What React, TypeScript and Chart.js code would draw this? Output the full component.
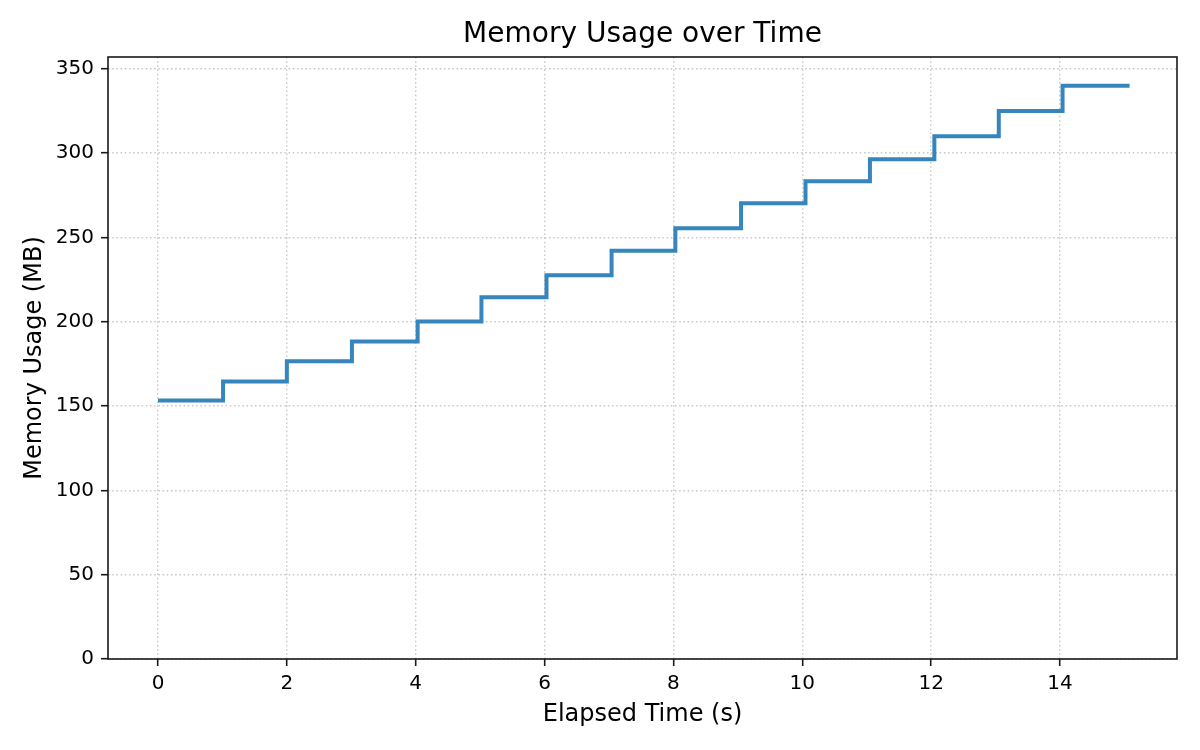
import React, { useEffect, useRef } from "react";
import { Chart, registerables } from "chart.js";

Chart.register(...registerables);

// Data
const elapsedSeconds: number[] = [0, 1.01, 2.0, 3.01, 4.03, 5.02, 6.03, 7.04, 8.03, 9.05, 10.05, 11.05, 12.05, 13.05, 14.04, 15.08];
const memoryMB: number[] = [153.3, 164.6, 176.5, 188.3, 200.2, 214.6, 227.5, 242.1, 255.4, 270.3, 283.3, 296.4, 310.0, 325.0, 340.0, 340.0];
const xTickValues: number[] = [0, 2, 4, 6, 8, 10, 12, 14];
const yTickValues: number[] = [0, 50, 100, 150, 200, 250, 300, 350];

const FONT = "'DejaVu Sans', 'Liberation Sans', sans-serif";

const framePlugin = {
  id: "frame",
  afterDraw(chart: any) {
    const { ctx, chartArea } = chart;
    ctx.save();
    ctx.strokeStyle = "#1a1a1a";
    ctx.lineWidth = 1.6;
    ctx.strokeRect(chartArea.left, chartArea.top, chartArea.right - chartArea.left, chartArea.bottom - chartArea.top);
    ctx.restore();
  },
};

export default function App() {
  const canvasRef = useRef<HTMLCanvasElement | null>(null);

  useEffect(() => {
    if (!canvasRef.current) return;
    const points = elapsedSeconds.map((t, i) => ({ x: t, y: memoryMB[i] }));
    const gridCommon = {
      color: "rgba(175,175,175,0.7)",
      lineWidth: 1.4,
      drawTicks: true,
      tickLength: 7,
      tickColor: "#1a1a1a",
      tickWidth: 1.6,
      tickBorderDash: [],
    };
    const chart = new Chart(canvasRef.current, {
      type: "line",
      data: {
        datasets: [
          {
            label: "Memory Usage",
            data: points,
            borderColor: "#3686bd",
            backgroundColor: "#3686bd",
            borderWidth: 4,
            pointRadius: 0,
            stepped: true,
            fill: false,
          },
        ],
      },
      plugins: [framePlugin],
      options: {
        animation: false,
        responsive: false,
        maintainAspectRatio: false,
        devicePixelRatio: 1,
        layout: { padding: { left: 0, right: 23, top: 0, bottom: 0 } },
        plugins: {
          legend: { display: false },
          tooltip: { enabled: false },
          title: {
            display: true,
            text: "Memory Usage over Time",
            fullSize: false,
            color: "#000",
            font: { family: FONT, size: 28, weight: "normal" },
            padding: { top: 17.9, bottom: 5.5 },
          },
        },
        scales: {
          x: {
            type: "linear",
            min: -0.776,
            max: 15.816,
            afterBuildTicks: (scale: any) => {
              scale.ticks = xTickValues.map((v) => ({ value: v }));
            },
            afterFit: (scale: any) => {
              scale.height = 91;
            },
            ticks: {
              color: "#000",
              font: { family: FONT, size: 20 },
              padding: 6,
              maxRotation: 0,
              autoSkip: false,
            },
            grid: gridCommon,
            border: { display: false, dash: [1.5, 2.7] },
            title: {
              display: true,
              text: "Elapsed Time (s)",
              color: "#000",
              font: { family: FONT, size: 24 },
              padding: { top: 0, bottom: 20.7 },
            },
          },
          y: {
            type: "linear",
            min: 0,
            max: 357,
            afterBuildTicks: (scale: any) => {
              scale.ticks = yTickValues.map((v) => ({ value: v }));
            },
            afterFit: (scale: any) => {
              scale.width = 108;
            },
            ticks: {
              color: "#000",
              font: { family: FONT, size: 20 },
              padding: 7,
              autoSkip: false,
            },
            grid: gridCommon,
            border: { display: false, dash: [1.5, 2.7] },
            title: {
              display: true,
              text: "Memory Usage (MB)",
              color: "#000",
              font: { family: FONT, size: 24 },
              padding: { top: 20, bottom: 0 },
            },
          },
        },
      },
    });
    return () => chart.destroy();
  }, []);

  return (
    <div style={{ position: "fixed", left: 0, top: 0, width: 1200, height: 750, background: "#fff" }}>
      <canvas ref={canvasRef} width={1200} height={750} style={{ width: 1200, height: 750, display: "block" }} />
    </div>
  );
}
